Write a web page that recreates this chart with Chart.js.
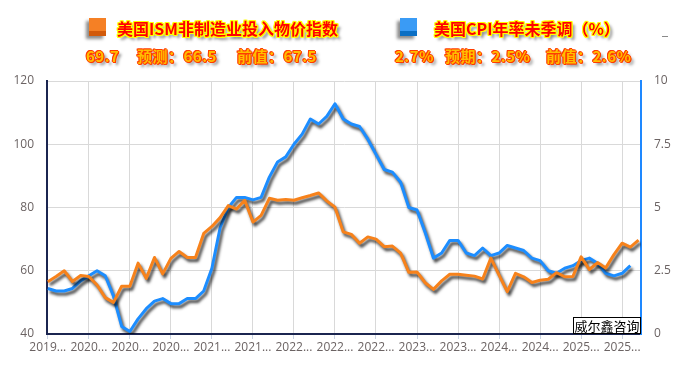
<!DOCTYPE html>
<html>
<head>
<meta charset="utf-8">
<script src="https://cdn.jsdelivr.net/npm/chart.js@4.4.1/dist/chart.umd.min.js"></script>
<style>
body{margin:0;background:#fff;}
#wrap{position:relative;width:680px;height:368px;overflow:hidden;}
#c{position:absolute;left:0;top:0;}
.hd{position:absolute;white-space:nowrap;font-family:"Noto Sans CJK SC";font-weight:700;}
.t1{font-size:16px;line-height:18px;color:#ff0000;
  text-shadow:1px 0 #ff0,-1px 0 #ff0,0 1px #ff0,0 -1px #ff0,1px 1px #ff0,-1px -1px #ff0,1px -1px #ff0,-1px 1px #ff0,3px 3px 3px rgba(0,0,0,.55);}
.t2{font-size:15px;line-height:17px;color:#ffbe00;letter-spacing:0.5px;
  text-shadow:1px 0 #ff3c00,-1px 0 #ff3c00,0 1px #ff3c00,0 -1px #ff3c00,1px 1px #ff3c00,-1px -1px #ff3c00,3px 3px 3px rgba(0,0,0,.5);}
.sq{position:absolute;width:17px;height:18px;box-shadow:-3px 3px 3px rgba(0,0,0,.45);}
</style>
</head>
<body>
<div id="wrap">
  <canvas id="c" width="680" height="368"></canvas>
  <div class="sq" style="left:89px;top:18px;background:linear-gradient(#f58025 75%,#d25a0a 75%);"></div>
  <div class="hd t1" style="left:117px;top:19px;">美国ISM非制造业投入物价指数</div>
  <div class="hd t2" style="left:86px;top:47px;">69.7</div>
  <div class="hd t2" style="left:137px;top:47px;">预测：66.5</div>
  <div class="hd t2" style="left:237px;top:47px;">前值：67.5</div>
  <div class="sq" style="left:400px;top:18px;background:linear-gradient(#3a9bf5 75%,#0b6fc4 75%);"></div>
  <div class="hd t1" style="left:434px;top:19px;">美国CPI年率未季调（%）</div>
  <div class="hd t2" style="left:395px;top:47px;">2.7%</div>
  <div class="hd t2" style="left:445px;top:47px;">预期：2.5%</div>
  <div class="hd t2" style="left:546px;top:47px;">前值：2.6%</div>
  <div style="position:absolute;left:662px;top:36px;width:6px;height:1px;background:#8a8a8a;"></div>
</div>
<script>
// 发布月份 (x 轴)
const months = [
  '2019-08','2019-09','2019-10','2019-11','2019-12',
  '2020-01','2020-02','2020-03','2020-04','2020-05','2020-06','2020-07','2020-08','2020-09','2020-10','2020-11','2020-12',
  '2021-01','2021-02','2021-03','2021-04','2021-05','2021-06','2021-07','2021-08','2021-09','2021-10','2021-11','2021-12',
  '2022-01','2022-02','2022-03','2022-04','2022-05','2022-06','2022-07','2022-08','2022-09','2022-10','2022-11','2022-12',
  '2023-01','2023-02','2023-03','2023-04','2023-05','2023-06','2023-07','2023-08','2023-09','2023-10','2023-11','2023-12',
  '2024-01','2024-02','2024-03','2024-04','2024-05','2024-06','2024-07','2024-08','2024-09','2024-10','2024-11','2024-12',
  '2025-01','2025-02','2025-03','2025-04','2025-05','2025-06','2025-07','2025-08'
];
const xTickIdx = [0,5,10,15,20,25,30,35,40,45,50,55,60,65,70];

// 美国ISM非制造业投入物价指数 (左轴)
const ismPrices = [
  56.5, 58.2, 60.0, 56.6, 58.5, 58.2,
  55.5, 51.5, 50.0, 55.1, 55.1, 62.4, 57.6, 64.2, 59.0, 63.9, 66.1, 64.2,
  64.2, 71.8, 74.0, 76.8, 80.6, 79.5, 82.3, 75.4, 77.5, 82.9, 82.3, 82.5,
  82.3, 83.1, 83.8, 84.6, 82.1, 80.1, 72.3, 71.5, 68.7, 70.7, 70.0, 67.6,
  67.8, 65.6, 59.5, 59.6, 56.2, 54.1, 56.8, 58.9, 58.9, 58.6, 58.3, 57.4,
  64.0, 58.6, 53.4, 59.2, 58.1, 56.3, 57.0, 57.3, 59.4, 58.1, 58.2, 64.4,
  60.4, 62.6, 60.9, 65.1, 68.7, 67.5, 69.7
];
// 美国CPI年率未季调 % (右轴)
const cpiYoY = [
  1.8, 1.7, 1.7, 1.8, 2.1, 2.3,
  2.5, 2.3, 1.5, 0.3, 0.1, 0.6, 1.0, 1.3, 1.4, 1.2, 1.2, 1.4,
  1.4, 1.7, 2.6, 4.2, 5.0, 5.4, 5.4, 5.3, 5.4, 6.2, 6.8, 7.0,
  7.5, 7.9, 8.5, 8.3, 8.6, 9.1, 8.5, 8.3, 8.2, 7.7, 7.1, 6.5,
  6.4, 6.0, 5.0, 4.9, 4.0, 3.0, 3.2, 3.7, 3.7, 3.2, 3.1, 3.4,
  3.1, 3.2, 3.5, 3.4, 3.3, 3.0, 2.9, 2.5, 2.4, 2.6, 2.7, 2.9,
  3.0, 2.8, 2.4, 2.3, 2.4, 2.7, null
];

const tickColor = '#6b6363';
const navy = '#1b2550';

const lineShadow = {
    id: 'lineShadow',
    beforeDatasetDraw(chart) {
        const c = chart.ctx;
        c.save();
        c.shadowColor = 'rgba(0,0,0,0.75)';
        c.shadowBlur = 3;
        c.shadowOffsetX = 2;
        c.shadowOffsetY = 3;
    },
    afterDatasetDraw(chart) {
        chart.ctx.restore();
    }
};

const watermark = {
    id: 'watermark',
    afterDatasetsDraw(chart) {
        const c = chart.ctx, a = chart.chartArea;
        const w = 68, h = 17;
        c.save();
        c.fillStyle = '#fff';
        c.fillRect(a.right - w, a.bottom - h, w, h);
        c.strokeStyle = '#000';
        c.lineWidth = 1;
        c.strokeRect(a.right - w + 0.5, a.bottom - h + 0.5, w - 1, h - 1);
        c.fillStyle = '#000';
        c.font = '13px "Noto Sans CJK SC"';
        c.textAlign = 'center';
        c.textBaseline = 'middle';
        c.fillText('威尔鑫咨询', a.right - w / 2, a.bottom - h / 2 + 1);
        c.restore();
    }
};

new Chart(document.getElementById('c'), {
    type: 'line',
    data: {
        datasets: [{
            data: ismPrices.map((v, i) => ({x: i, y: v})),
            borderColor: '#f7821b',
            borderWidth: 3,
            yAxisID: 'y',
            pointRadius: 0,
            tension: 0,
            borderJoinStyle: 'round'
        }, {
            data: cpiYoY.map((v, i) => ({x: i, y: v})),
            borderColor: '#1c8dff',
            borderWidth: 3,
            yAxisID: 'y1',
            pointRadius: 0,
            tension: 0,
            borderJoinStyle: 'round'
        }]
    },
    options: {
        responsive: false,
        animation: false,
        layout: { padding: { top: 81, left: 0, right: 0, bottom: 0 } },
        plugins: { legend: { display: false }, tooltip: { enabled: false } },
        scales: {
            x: {
                type: 'linear',
                min: -0.1,
                max: 72.3,
                afterBuildTicks: s => { s.ticks = xTickIdx.map(v => ({value: v})); },
                afterFit: s => { s.height = 34; },
                grid: { color: '#d9d9d9', drawTicks: true, tickLength: 5, tickColor: '#c9d3e3' },
                border: { color: navy, width: 2 },
                ticks: {
                    color: tickColor,
                    font: { family: 'Open Sans', size: 12 },
                    padding: 1,
                    maxRotation: 0,
                    autoSkip: false,
                    callback: v => months[v].slice(0, 4) + '...'
                }
            },
            y: {
                position: 'left',
                min: 40,
                max: 120,
                afterFit: s => { s.width = 47; },
                grid: { color: '#d9d9d9', drawTicks: false },
                border: { color: navy, width: 2 },
                ticks: { stepSize: 20, padding: 13, color: tickColor, font: { family: 'Open Sans', size: 12 } }
            },
            y1: {
                position: 'right',
                min: 0,
                max: 10,
                afterFit: s => { s.width = 39; },
                grid: { drawOnChartArea: false, drawTicks: false },
                border: { color: '#1e88ff', width: 2 },
                ticks: { stepSize: 2.5, padding: 13, color: tickColor, font: { family: 'Open Sans', size: 12 } }
            }
        }
    },
    plugins: [lineShadow, watermark]
});
</script>
</body>
</html>
